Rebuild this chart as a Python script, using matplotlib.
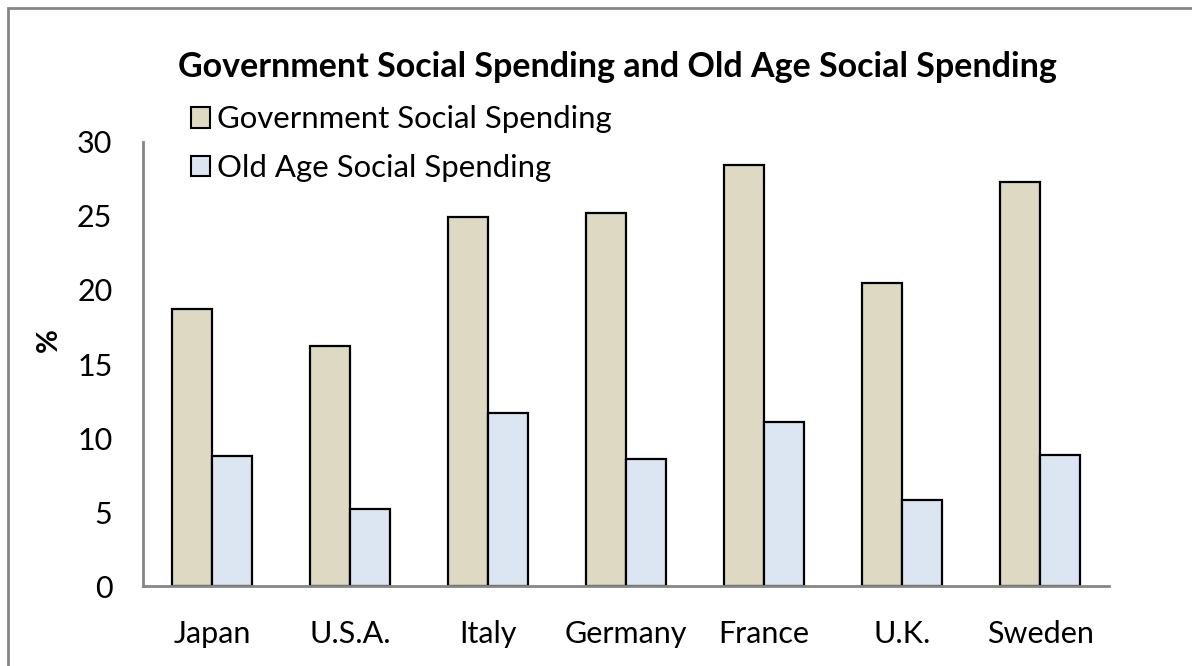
import numpy as np
import matplotlib.pyplot as plt
from matplotlib.patches import Patch, Rectangle

# values (% of GDP)
countries = ["Japan", "U.S.A.", "Italy", "Germany", "France", "U.K.", "Sweden"]
gov_spending = [18.7, 16.2, 24.9, 25.2, 28.4, 20.5, 27.3]
old_age_spending = [8.8, 5.2, 11.7, 8.6, 11.1, 5.8, 8.9]
series_names = ["Government Social Spending", "Old Age Social Spending"]
yticks = [0, 5, 10, 15, 20, 25, 30]

gov_color = "#DDD9C3"
old_color = "#DCE6F2"
axis_gray = "#868686"

plt.rcParams["font.family"] = ["Lato", "DejaVu Sans"]

fig = plt.figure(figsize=(11.92, 6.66), dpi=100)
ax = fig.add_axes([0.12, 0.1194, 0.8104, 0.6678])

x = np.arange(len(countries))
w = 0.293
ax.bar(x - w / 2, gov_spending, w, color=gov_color, edgecolor="black", linewidth=1.6)
ax.bar(x + w / 2, old_age_spending, w, color=old_color, edgecolor="black", linewidth=1.6)

ax.set_xlim(-0.5, len(countries) - 0.5)
ax.set_ylim(0, 30)
ax.set_yticks(yticks)
ax.set_xticks(x)
ax.set_xticklabels(countries)
ax.tick_params(length=0, labelsize=22)
ax.tick_params(axis="y", pad=22)
ax.tick_params(axis="x", pad=24)

for side in ["top", "right"]:
    ax.spines[side].set_visible(False)
for side in ["left", "bottom"]:
    ax.spines[side].set_color(axis_gray)
    ax.spines[side].set_linewidth(2)

ax.set_ylabel("%", fontsize=21, fontweight="bold")
ax.yaxis.set_label_coords(-0.0845, 0.554)

fig.text(0.518, 0.90, "Government Social Spending and Old Age Social Spending",
         ha="center", va="center", fontsize=24.5, fontweight="bold")

handles = [Patch(facecolor=gov_color, edgecolor="black", linewidth=1.5),
           Patch(facecolor=old_color, edgecolor="black", linewidth=1.5)]
fig.legend(handles, series_names, loc="upper left", bbox_to_anchor=(0.147, 0.865),
           frameon=False, fontsize=22.4, handlelength=0.62, handleheight=0.62,
           handletextpad=0.22, labelspacing=0.66, borderpad=0)

# chart area border (only the top and left edges show in the picture)
fig.patches.append(Rectangle((8 / 1192, -0.1), 1.2, 1 - 8 / 666 + 0.1,
                             transform=fig.transFigure, fill=False,
                             edgecolor=axis_gray, linewidth=2))

fig.savefig("out.png", dpi=100)
